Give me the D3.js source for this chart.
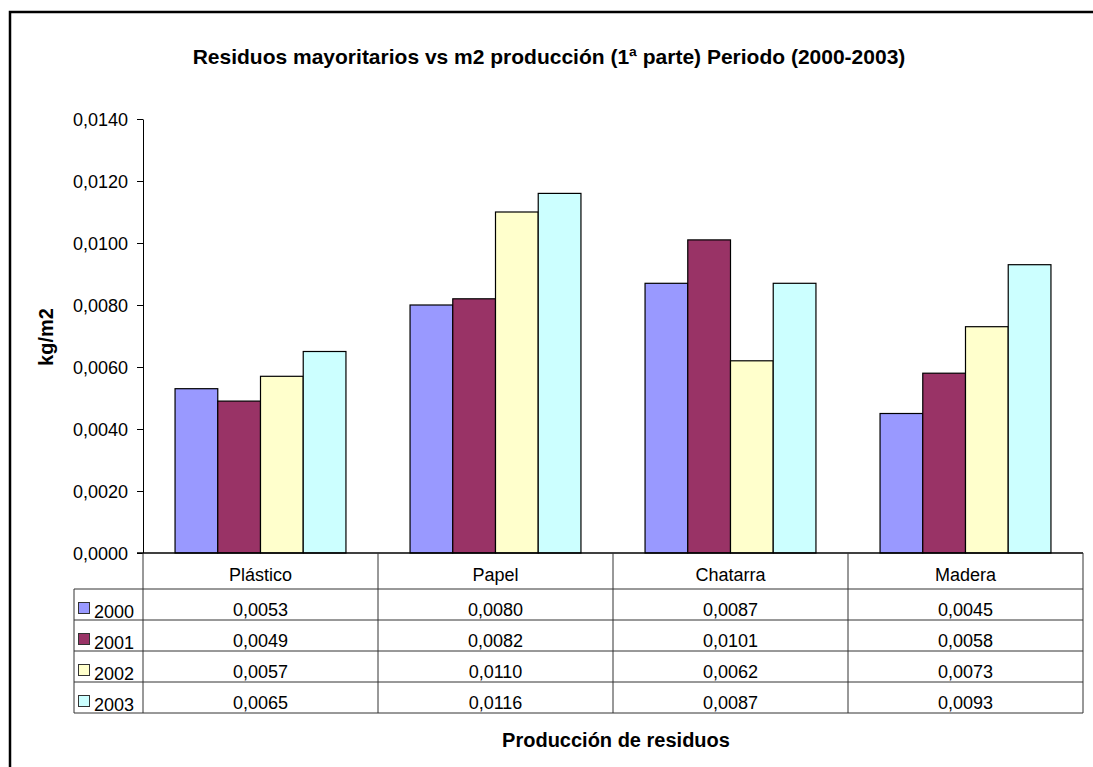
<!DOCTYPE html>
<html><head><meta charset="utf-8">
<script src="https://cdn.jsdelivr.net/npm/d3@7"></script>
<style>html,body{margin:0;background:#fff;overflow:hidden}svg{display:block}text{font-family:Arial,"Liberation Sans",sans-serif}</style>
</head><body>
<script>
const categories = ["Plástico","Papel","Chatarra","Madera"];
const years = ["2000","2001","2002","2003"];
const v2000 = [0.0053,0.0080,0.0087,0.0045];
const v2001 = [0.0049,0.0082,0.0101,0.0058];
const v2002 = [0.0057,0.0110,0.0062,0.0073];
const v2003 = [0.0065,0.0116,0.0087,0.0093];
const yTicks = [0,0.002,0.004,0.006,0.008,0.010,0.012,0.014];
const colors = ["#9999FF","#993366","#FFFFCC","#CCFFFF"];
const series = [v2000,v2001,v2002,v2003];

(function(){
const W=1093,H=767;
const svg=d3.select("body").append("svg").attr("width",W).attr("height",H);
const loc=d3.formatLocale({decimal:",",thousands:".",grouping:[3],currency:["","€"]});
const fmt=loc.format(".4f");

// outer frame (right and bottom edges lie outside the picture)
svg.append("path").attr("d",`M10,${H+5}V12H${W+5}`).attr("fill","none").attr("stroke","#000").attr("stroke-width",2.5);

const pL=143,pR=1083,pT=119,pB=553;
const y=d3.scaleLinear().domain([0,0.014]).range([pB,pT]);
const x0=d3.scaleBand().domain(categories).range([pL,pR]).paddingInner(0).paddingOuter(0);
const x1=d3.scaleBand().domain(years).range([0,x0.bandwidth()]).paddingOuter(0.75).paddingInner(0);

// title
svg.append("text").attr("x",549).attr("y",64).attr("text-anchor","middle").attr("font-size",21).attr("font-weight","bold").text("Residuos mayoritarios vs m2 producción (1ª parte) Periodo (2000-2003)");

// y axis
const yAxis=d3.axisLeft(y).tickValues(yTicks).tickFormat(fmt).tickSize(6).tickSizeOuter(0);
const ga=svg.append("g").attr("transform",`translate(${pL},0)`).call(yAxis);
ga.select(".domain").attr("stroke","#000");
ga.selectAll(".tick line").attr("stroke","#000");
ga.selectAll(".tick text").attr("font-size",18).attr("fill","#000").attr("font-family","Arial, Liberation Sans, sans-serif").attr("x",-15).attr("dy","0.36em");

svg.append("text").attr("transform",`translate(53,337) rotate(-90)`).attr("text-anchor","middle").attr("font-size",20).attr("font-weight","bold").text("kg/m2");

// bars
const g=svg.append("g");
categories.forEach((c,ci)=>{
  years.forEach((yr,si)=>{
    const v=series[si][ci];
    g.append("rect").attr("x",x0(c)+x1(yr)).attr("y",y(v)).attr("width",x1.bandwidth()).attr("height",pB-y(v))
      .attr("fill",colors[si]).attr("stroke","#000").attr("stroke-width",1.2);
  });
});

// baseline
svg.append("line").attr("x1",pL-6).attr("x2",pR).attr("y1",pB).attr("y2",pB).attr("stroke","#000").attr("stroke-width",1.5);

// data table
const tbl=svg.append("g");
const legLeft=74;
const rowY=[553,589,620,651,682,713];
const lc="#333";
tbl.append("line").attr("x1",pR).attr("x2",pR).attr("y1",553).attr("y2",713).attr("stroke",lc);
categories.forEach((c,ci)=>{
  tbl.append("line").attr("x1",x0(c)).attr("x2",x0(c)).attr("y1",553).attr("y2",713).attr("stroke",lc);
  tbl.append("text").attr("x",x0(c)+x0.bandwidth()/2).attr("y",581).attr("text-anchor","middle").attr("font-size",18).text(c);
});
tbl.append("line").attr("x1",legLeft).attr("x2",legLeft).attr("y1",589).attr("y2",713).attr("stroke",lc);
rowY.slice(1).forEach(yy=>{
  tbl.append("line").attr("x1",legLeft).attr("x2",pR).attr("y1",yy).attr("y2",yy).attr("stroke",lc);
});
years.forEach((yr,si)=>{
  const ry=rowY[si+1];
  tbl.append("rect").attr("x",78.5).attr("y",ry+13.5).attr("width",11).attr("height",11).attr("fill",colors[si]).attr("stroke","#333");
  tbl.append("text").attr("x",94).attr("y",ry+29).attr("font-size",18).text(yr);
  categories.forEach((c,ci)=>{
    tbl.append("text").attr("x",x0(c)+x0.bandwidth()/2).attr("y",ry+27).attr("text-anchor","middle").attr("font-size",18).text(fmt(series[si][ci]));
  });
});

svg.append("text").attr("x",616).attr("y",747).attr("text-anchor","middle").attr("font-size",20).attr("font-weight","bold").text("Producción de residuos");
})();
</script>
</body></html>
